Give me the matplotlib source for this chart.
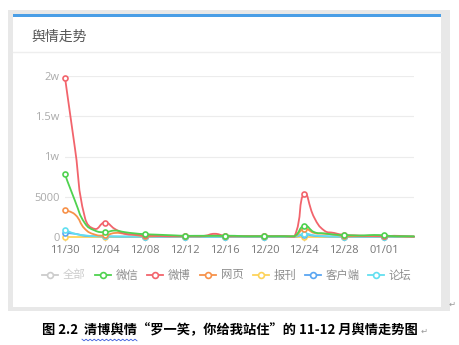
import matplotlib
matplotlib.use("Agg")
import numpy as np
import matplotlib.pyplot as plt
from matplotlib.patches import Rectangle, PathPatch
from matplotlib.path import Path
from matplotlib.lines import Line2D

plt.rcParams['font.family'] = ['Noto Sans CJK SC', 'DejaVu Sans']

# ---------------- data ----------------
dates = ['11/30', '12/01', '12/02', '12/03', '12/04', '12/05', '12/06', '12/07',
         '12/08', '12/09', '12/10', '12/11', '12/12', '12/13', '12/14', '12/15',
         '12/16', '12/17', '12/18', '12/19', '12/20', '12/21', '12/22', '12/23',
         '12/24', '12/25', '12/26', '12/27', '12/28', '12/29', '12/30', '12/31',
         '01/01', '01/02', '01/03', '01/04']
weixin = [7800, 4500, 1700, 800, 600, 800, 600, 450, 350, 300, 250, 200, 150, 150, 150, 150,
          150, 150, 100, 100, 100, 100, 100, 100, 1400, 600, 450, 300, 250, 200, 200, 250,
          200, 100, 100, 80]
weibo = [19800, 11000, 2400, 1000, 1800, 1000, 400, 300, 200, 150, 100, 100, 100, 100, 150, 400,
         150, 100, 100, 100, 100, 100, 100, 50, 5400, 2400, 800, 500, 250, 200, 150, 150,
         100, 150, 100, 50]
wangye = [3300, 2800, 1000, 300, 200, 500, 400, 250, 100, 100, 100, 80, 80, 80, 100, 200,
          100, 80, 80, 80, 80, 80, 80, 50, 1000, 500, 400, 300, 100, 100, 100, 100,
          80, 80, 50, 50]
baokan = [0] * 36
kehuduan = [500, 400, 150, 100, 80, 60, 50, 50, 40, 40, 30, 30, 30, 30, 30, 30,
            30, 30, 30, 30, 30, 30, 30, 30, 300, 150, 80, 60, 40, 40, 30, 30,
            30, 30, 30, 30]
luntan = [900, 400, 200, 100, 80, 60, 50, 50, 40, 40, 30, 30, 30, 30, 30, 30,
          30, 30, 30, 30, 30, 30, 30, 30, 400, 200, 100, 60, 40, 40, 30, 30,
          30, 30, 30, 30]
legend_names = ['全部', '微信', '微博', '网页', '报刊', '客户端', '论坛']
ytick_vals = [0, 5000, 10000, 15000, 20000]
ytick_labels = ['0', '5000', '1w', '1.5w', '2w']
title = '舆情走势'
caption = '图 2.2  清博舆情“罗一笑，你给我站住”的 11-12 月舆情走势图'

colors = {'全部': '#cccccc', '微信': '#4fd24f', '微博': '#f2646c', '网页': '#f7924a',
          '报刊': '#fdd35a', '客户端': '#5aa6f2', '论坛': '#62dff0'}

W, H = 459, 345
fig = plt.figure(figsize=(W / 100, H / 100), dpi=100)
fig.patch.set_facecolor('white')


def fx(px):
    return px / W


def fy(py):
    return 1 - py / H


# frame
fig.add_artist(Rectangle((fx(8), fy(311)), fx(450) - fx(8), fy(10) - fy(311),
                         transform=fig.transFigure, facecolor='#e8e8e8', edgecolor='none', zorder=0))
fig.add_artist(Rectangle((fx(13), fy(307)), fx(441) - fx(13), fy(14) - fy(307),
                         transform=fig.transFigure, facecolor='white', edgecolor='none', zorder=0))
fig.add_artist(Rectangle((fx(13), fy(16.8)), fx(441) - fx(13), fy(14) - fy(16.8),
                         transform=fig.transFigure, facecolor='#4a9ee6', edgecolor='none', zorder=1))
fig.add_artist(Line2D([fx(13), fx(441)], [fy(52), fy(52)], transform=fig.transFigure,
                      color='#eeeeee', lw=1, zorder=1))
fig.text(fx(31), fy(37), title, fontsize=10, color='#555555', va='center', ha='left')

# axes
ax = fig.add_axes([fx(65), fy(237), fx(414) - fx(65), fy(76) - fy(237)])
ax.set_facecolor('none')
x = list(range(len(dates)))
ax.set_xlim(0, len(dates) - 1)
ax.set_ylim(0, 20000)
for s in ax.spines.values():
    s.set_visible(False)
ax.set_yticks(ytick_vals)
ax.set_yticklabels(ytick_labels)
ax.yaxis.grid(True, color='#ececec', lw=0.8)
ax.set_axisbelow(True)
ax.tick_params(axis='y', length=0, labelsize=8, labelcolor='#aaaaaa', pad=4)
ax.set_xticks(x[::4])
ax.set_xticklabels(dates[::4])
ax.tick_params(axis='x', length=3, color='#cccccc', labelsize=8, labelcolor='#777777', pad=3)
for lab in ax.get_yticklabels() + ax.get_xticklabels():
    lab.set_family(['Open Sans', 'DejaVu Sans'])

# pixel scale used for smooth-curve control point weighting (echarts-like smoothing)
px_per_day = (414 - 65) / (len(dates) - 1)
px_per_unit = (237 - 76) / 20000.0


def smooth_path(xs, ys, smooth=0.5):
    xs = np.asarray(xs, float)
    ys = np.asarray(ys, float)
    n = len(xs)
    ymin, ymax = ys.min(), ys.max()
    verts = [(xs[0], ys[0])]
    codes = [Path.MOVETO]
    cps = []
    for i in range(n):
        if i == 0 or i == n - 1:
            cps.append(((xs[i], ys[i]), (xs[i], ys[i])))
            continue
        vx = (xs[i + 1] - xs[i - 1]) * smooth
        vy = (ys[i + 1] - ys[i - 1]) * smooth
        d0 = np.hypot((xs[i] - xs[i - 1]) * px_per_day, (ys[i] - ys[i - 1]) * px_per_unit)
        d1 = np.hypot((xs[i + 1] - xs[i]) * px_per_day, (ys[i + 1] - ys[i]) * px_per_unit)
        t0 = d0 / (d0 + d1)
        t1 = d1 / (d0 + d1)
        c_in = (xs[i] - vx * t0, min(max(ys[i] - vy * t0, ymin), ymax))
        c_out = (xs[i] + vx * t1, min(max(ys[i] + vy * t1, ymin), ymax))
        cps.append((c_in, c_out))
    for i in range(n - 1):
        verts += [cps[i][1], cps[i + 1][0], (xs[i + 1], ys[i + 1])]
        codes += [Path.CURVE4, Path.CURVE4, Path.CURVE4]
    return Path(verts, codes)


series = [('报刊', baokan, 2), ('客户端', kehuduan, 3), ('论坛', luntan, 4),
          ('网页', wangye, 5), ('微博', weibo, 6), ('微信', weixin, 7)]
for name, vals, z in series:
    c = colors[name]
    ax.add_patch(PathPatch(smooth_path(x, vals), facecolor='none', edgecolor=c, lw=1.3,
                           zorder=z, clip_on=False, joinstyle='round', capstyle='round'))
    ax.plot(x[::4], vals[::4], lw=0, marker='o', ms=3.6, mfc='white', mec=c, mew=1.2,
            zorder=z + 0.5, clip_on=False)

# legend (manual)
leg_y = fy(275)
icon_x = [42, 95, 147, 200, 253, 305, 368]
for name, ix in zip(legend_names, icon_x):
    c = colors[name]
    fig.add_artist(Line2D([fx(ix), fx(ix + 16)], [leg_y, leg_y], transform=fig.transFigure,
                          color=c, lw=1.3, zorder=5))
    fig.add_artist(Line2D([fx(ix + 8)], [leg_y], transform=fig.transFigure, color=c,
                          marker='o', ms=4.2, mfc='white', mec=c, mew=1.2, lw=0, zorder=6))
    tc = '#cccccc' if name == '全部' else '#8c8c8c'
    fig.text(fx(ix + 21), leg_y, name, fontsize=8.2, color=tc, va='center', ha='left')

# caption
fig.text(fx(230), fy(330), caption, fontsize=9.5, fontweight='bold', color='black',
         ha='center', va='center')
# spell-check wavy underline under 清博舆情
wx = np.linspace(82, 137, 28)
wy = 340 + 0.8 * np.where(np.arange(28) % 2 == 0, -1, 1)
fig.add_artist(Line2D(fx(wx), fy(wy), transform=fig.transFigure, color='#3b5bdb', lw=0.6))
fig.text(fx(452), fy(304), '↵', fontsize=6, color='#999999', ha='center', va='center',
         family=['DejaVu Sans'])
fig.text(fx(424), fy(331), '↵', fontsize=6, color='#999999', ha='center', va='center',
         family=['DejaVu Sans'])

fig.savefig('out.png', dpi=100)
